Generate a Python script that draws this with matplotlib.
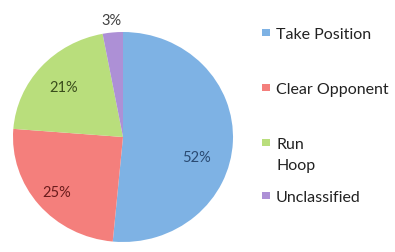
import numpy as np
import matplotlib
matplotlib.use("Agg")
import matplotlib.pyplot as plt
from matplotlib.patches import Rectangle

categories = ["Take Position", "Clear Opponent", "Run\nHoop", "Unclassified"]
values = [52, 25, 21, 3]
pct_labels = ["52%", "25%", "21%", "3%"]

colors = ["#7eb2e4", "#f47f7c", "#b9de7c", "#ad90d6"]
text_colors = ["#2a4a72", "#6a1c1c", "#3a4d1c", "#404040"]
label_r = [0.70, 0.80, 0.71, 1.11]
label_dang = [-14, 1.5, 1, 0]

# legend layout (pixel positions of cap tops, from top)
leg_cap = [31, 86, 141, 194]
leg_text_x = 276
leg_box_x = 262
W, H = 395, 252

plt.rcParams['font.family'] = ['Lato', 'DejaVu Sans']
fig = plt.figure(figsize=(W / 100, H / 100), dpi=100)
fig.patch.set_facecolor("white")
ax = fig.add_axes([13 / W, 10 / H, 220 / W, 210 / H])
wedges, _ = ax.pie(values, colors=colors, startangle=90, counterclock=False,
                   radius=1.0, wedgeprops=dict(linewidth=0))
ax.set_aspect('auto')
ax.set_xlim(-1, 1)
ax.set_ylim(-1, 1)
ax.axis('off')

for w, lab, r, da, tc in zip(wedges, pct_labels, label_r, label_dang, text_colors):
    ang = np.deg2rad((w.theta1 + w.theta2) / 2 + da)
    ax.text(r * np.cos(ang), r * np.sin(ang), lab, ha='center', va='center',
            fontsize=10.5, color=tc)

for cat, c, y in zip(categories, colors, leg_cap):
    fig.add_artist(Rectangle((leg_box_x / W, 1 - (y + 5) / H), 8 / W, 7 / H,
                             transform=fig.transFigure, facecolor=c, edgecolor='none'))
    fig.text(leg_text_x / W, 1 - (y - 3) / H, cat, ha='left', va='top',
             fontsize=11.5, color="#222222", linespacing=1.6,
             transform=fig.transFigure)

fig.savefig("out.png", dpi=100, facecolor="white")
